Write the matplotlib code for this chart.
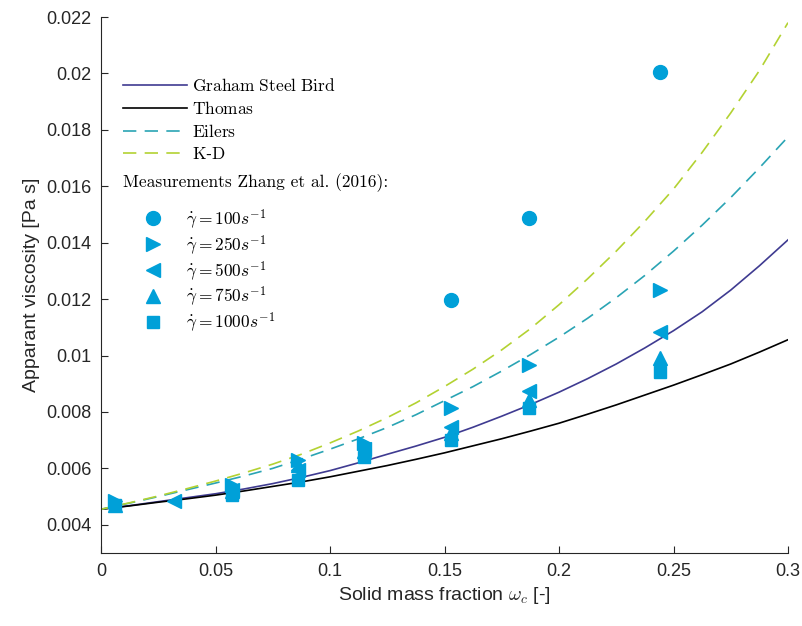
import numpy as np
import matplotlib
matplotlib.use("Agg")
import matplotlib.pyplot as plt

plt.rcParams['font.family'] = ['Liberation Sans', 'DejaVu Sans']
plt.rcParams['mathtext.fontset'] = 'cm'

# model curves
w_model = [0, 0.0125, 0.025, 0.0375, 0.05, 0.0625, 0.075, 0.0875, 0.1, 0.1125,
           0.125, 0.1375, 0.15, 0.1625, 0.175, 0.1875, 0.2, 0.2125, 0.225, 0.2375,
           0.25, 0.2625, 0.275, 0.2875, 0.3]
mu_gsb = [0.00455, 0.00468, 0.00482, 0.00496, 0.0051, 0.00527, 0.00546, 0.00568,
          0.00592, 0.0062, 0.0065, 0.00679, 0.0071, 0.00746, 0.00785, 0.00826,
          0.0087, 0.00918, 0.0097, 0.01027, 0.01088, 0.01155, 0.01232, 0.01318, 0.0141]
mu_thomas = [0.00455, 0.00467, 0.0048, 0.00492, 0.00505, 0.0052, 0.00536, 0.00552,
             0.0057, 0.0059, 0.0061, 0.00632, 0.00655, 0.0068, 0.00705, 0.00732,
             0.0076, 0.00792, 0.00825, 0.0086, 0.00895, 0.00932, 0.0097, 0.01012, 0.01056]
mu_eilers = [0.00455, 0.00477, 0.005, 0.00524, 0.00548, 0.00573, 0.006, 0.00633,
             0.00668, 0.00705, 0.00745, 0.0079, 0.0084, 0.0089, 0.00945, 0.01003,
             0.01065, 0.01132, 0.01205, 0.01284, 0.0137, 0.01462, 0.0156, 0.01665, 0.01775]
mu_kd = [0.00455, 0.00478, 0.00502, 0.00528, 0.00555, 0.00584, 0.00615, 0.0065,
         0.0069, 0.00733, 0.0078, 0.00832, 0.0089, 0.00952, 0.0102, 0.01095,
         0.0118, 0.01272, 0.0137, 0.01476, 0.0159, 0.0172, 0.0186, 0.0201, 0.0218]

# measurements Zhang et al. (2016)
w_100 = [0.153, 0.187, 0.244]
mu_100 = [0.01196, 0.01488, 0.02005]
w_250 = [0.006, 0.057, 0.086, 0.115, 0.153, 0.187, 0.244]
mu_250 = [0.00485, 0.00542, 0.0063, 0.0069, 0.00815, 0.00965, 0.01233]
w_500 = [0.032, 0.057, 0.086, 0.115, 0.153, 0.187, 0.244]
mu_500 = [0.00484, 0.00524, 0.00595, 0.0067, 0.00747, 0.00875, 0.01085]
w_750 = [0.006, 0.057, 0.086, 0.115, 0.153, 0.187, 0.244]
mu_750 = [0.0047, 0.0052, 0.00613, 0.0066, 0.00726, 0.00843, 0.00992]
w_1000 = [0.006, 0.057, 0.086, 0.115, 0.153, 0.187, 0.244]
mu_1000 = [0.0047, 0.00505, 0.0056, 0.0064, 0.00701, 0.00815, 0.0094]

mcol = '#00a0d8'
axcol = '#262626'

fig = plt.figure(figsize=(8.02, 6.26), dpi=100)
ax = fig.add_axes([101/802, 1 - 553/626, 687/802, 536/626])

l1, = ax.plot(w_model, mu_gsb, color='#3f3b91', lw=1.2)
l2, = ax.plot(w_model, mu_thomas, color='black', lw=1.2)
l3, = ax.plot(w_model, mu_eilers, color='#2aa4b4', lw=1.2, ls=(0, (8, 5)))
l4, = ax.plot(w_model, mu_kd, color='#b3d232', lw=1.2, ls=(0, (8, 5)))

m1, = ax.plot(w_100, mu_100, 'o', color=mcol, ms=10, ls='none')
m2, = ax.plot(w_250, mu_250, '>', color=mcol, ms=10.5, ls='none')
m3, = ax.plot(w_500, mu_500, '<', color=mcol, ms=10.5, ls='none')
m4, = ax.plot(w_750, mu_750, '^', color=mcol, ms=10.5, ls='none')
m5, = ax.plot(w_1000, mu_1000, 's', color=mcol, ms=8.5, ls='none')

ax.set_xlim(0, 0.3)
ax.set_ylim(0.003, 0.022)
ax.set_xticks([0, 0.05, 0.1, 0.15, 0.2, 0.25, 0.3])
ax.set_xticklabels(['0', '0.05', '0.1', '0.15', '0.2', '0.25', '0.3'])
yt = [0.004, 0.006, 0.008, 0.01, 0.012, 0.014, 0.016, 0.018, 0.02, 0.022]
ax.set_yticks(yt)
ax.set_yticklabels([('%g' % v) for v in yt])
ax.spines['top'].set_visible(False)
ax.spines['right'].set_visible(False)
for s in ['left', 'bottom']:
    ax.spines[s].set_color(axcol)
ax.tick_params(direction='in', length=5, colors=axcol, labelsize=13, pad=7)
ax.set_xlabel(r'Solid mass fraction $\omega_c$ [-]', fontsize=14, color=axcol)
ax.set_ylabel('Apparant viscosity [Pa s]', fontsize=14, color=axcol)

leg1 = fig.legend([l1, l2, l3, l4],
                  [r'$\mathrm{Graham\ Steel\ Bird}$', r'$\mathrm{Thomas}$',
                   r'$\mathrm{Eilers}$', r'$\mathrm{K}$-$\mathrm{D}$'],
                  loc='upper left', bbox_to_anchor=(123/802, 1 - 77/626),
                  frameon=False, fontsize=12.5, borderpad=0, borderaxespad=0,
                  handlelength=3.7, handletextpad=0.3, labelspacing=0.35)
fig.text(123/802, 1 - 183/626, 'Measurements Zhang et al. (2016):',
         fontsize=12.5, va='center', ha='left', family='cmr10')
leg2 = fig.legend([m1, m2, m3, m4, m5],
                  [r'$\dot{\gamma} = 100 s^{-1}$', r'$\dot{\gamma} = 250 s^{-1}$',
                   r'$\dot{\gamma} = 500 s^{-1}$', r'$\dot{\gamma} = 750 s^{-1}$',
                   r'$\dot{\gamma} = 1000 s^{-1}$'],
                  loc='upper left', bbox_to_anchor=(136/802, 1 - 207/626),
                  frameon=False, fontsize=12.5, borderpad=0, borderaxespad=0,
                  handlelength=2.0, handletextpad=0.9, labelspacing=0.12)

fig.savefig('out.png', dpi=100)
